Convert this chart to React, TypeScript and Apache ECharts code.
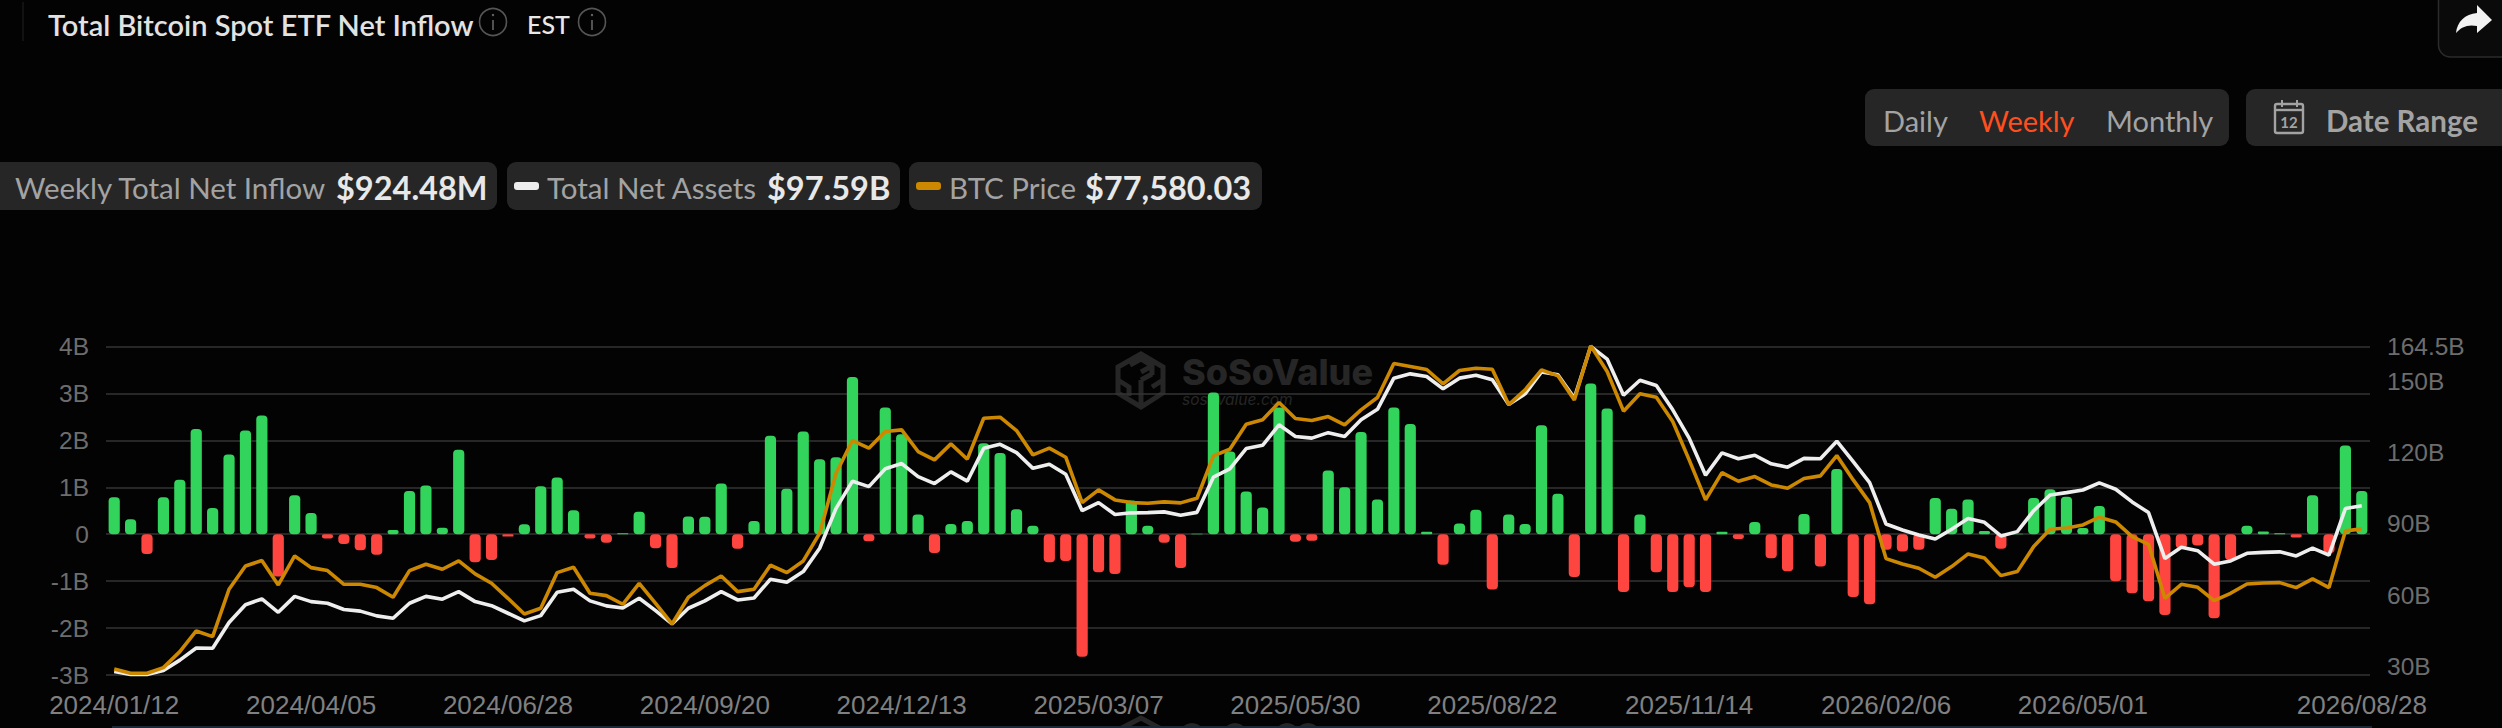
import React, { useEffect, useRef } from "react";
import * as echarts from "echarts";

const tickLabels = ["2024/01/12","2024/04/05","2024/06/28","2024/09/20","2024/12/13","2025/03/07","2025/05/30","2025/08/22","2025/11/14","2026/02/06","2026/05/01","2026/08/28"];
const weekCount = 138;
const firstWeek = Date.UTC(2024, 0, 12);
const weeks = Array.from({ length: weekCount }, (_, i) => new Date(firstWeek + i * 7 * 864e5).toISOString().slice(0, 10).replace(/-/g, "/"));

const netInflowB = [
0.79,0.32,-0.42,0.79,1.16,2.24,0.56,1.70,2.21,2.53,-0.90,0.83,0.45,-0.09,-0.21,-0.34,-0.44,0.09,0.92,1.04,0.14,1.80,-0.60,-0.55,-0.05,0.21,1.02,1.21,0.51,-0.09,-0.18,0.02,0.48,
-0.30,-0.72,0.38,0.37,1.08,-0.31,0.28,2.10,0.97,2.19,1.60,1.64,3.35,-0.15,2.70,2.13,0.42,-0.40,0.22,0.28,1.94,1.73,0.53,0.18,-0.60,-0.57,-2.61,-0.81,-0.85,0.72,0.18,-0.18,-0.72,0.01,3.02,1.76,0.91,0.57,2.70,
-0.16,-0.14,1.36,1.00,2.18,0.74,2.70,2.35,0.05,-0.65,0.23,0.52,-1.18,0.42,0.22,2.32,0.86,-0.91,3.21,2.68,-1.23,0.42,-0.81,-1.23,-1.13,-1.23,0.05,-0.10,0.26,-0.51,-0.79,0.43,-0.69,1.39,-1.34,-1.49,
-0.33,-0.37,-0.33,0.77,0.54,0.74,0.07,-0.31,0.01,0.77,0.96,0.80,0.13,0.60,-1.00,-1.26,-1.43,-1.72,-0.30,-0.24,-1.79,-0.55,0.18,0.06,0.02,-0.07,0.83,-0.40,1.89,0.92];

const totalNetAssetsB = [
27.9,26.7,26.7,28.3,32.7,37.8,37.7,48.5,56.0,58.4,52.8,59.5,57.3,56.6,54.0,53.3,51.3,50.3,56.6,59.5,58.3,61.5,57.3,55.6,52.4,49.2,51.4,61.2,62.5,57.6,55.5,54.6,58.7,
53.5,47.9,54.5,57.6,61.5,58.0,58.8,66.7,65.4,69.9,79.7,96.5,107.9,105.6,113.1,115.3,109.8,106.9,111.8,107.9,121.7,123.4,119.9,113.3,115.0,110.8,95.5,98.9,93.9,94.6,94.7,95.0,93.6,94.8,109.6,113.1,121.6,123.0,131.6,
126.7,126.0,128.3,126.7,133.7,138.1,151.2,153.0,151.9,146.7,151.2,152.4,150.5,140.1,144.6,153.8,152.6,142.8,164.5,159.2,144.0,150.3,148.1,137.9,126.0,110.4,119.8,117.3,118.8,115.2,113.8,117.5,117.3,124.7,116.1,107.3,
89.9,87.4,85.3,83.6,87.7,92.2,90.6,84.9,86.7,95.5,102.1,103.1,104.2,107.2,104.5,99.2,94.7,75.4,80.1,78.7,73.0,74.4,77.6,78.0,78.2,76.5,79.8,76.8,96.4,97.59];

const btcPriceK = [
41.93,40.83,40.83,42.27,46.35,51.61,50.17,62.22,68.16,69.52,63.32,70.70,67.73,66.97,63.49,63.49,62.64,60.18,66.97,68.58,67.31,69.43,66.12,63.74,59.92,55.93,57.38,66.46,67.82,61.20,60.60,58.40,63.74,
58.65,53.39,60.18,63.15,65.61,61.62,62.22,68.33,66.46,69.43,76.47,91.75,100.07,98.12,102.36,102.78,97.27,95.15,99.22,95.32,105.75,106.01,102.61,96.42,98.12,95.82,84.28,87.51,84.96,84.28,84.11,84.45,84.20,85.38,96.16,97.86,104.23,105.33,109.74,
105.67,105.16,106.18,104.06,107.88,111.02,119.67,118.91,118.15,114.49,117.89,118.48,118.23,109.23,112.97,118.06,116.53,110.42,124.17,117.63,107.54,111.95,111.10,104.91,95.15,84.96,91.92,89.71,90.90,88.78,87.93,90.39,91.07,96.25,90.05,84.28,
70.02,68.66,67.56,65.27,67.99,71.21,70.19,65.69,66.71,73.08,77.49,77.83,78.60,80.55,79.36,75.62,73.67,59.92,63.49,62.72,59.33,61.20,63.57,63.83,63.91,62.64,64.85,62.64,77.07,77.58];

const assetsTicks = [30, 60, 90, 120, 150, 164.5];

const UI = "Lato, 'Open Sans', sans-serif";
const AXIS = "'Liberation Sans', Arial, sans-serif";
const PILL = "#262626";
const MUTED = "#a3a3a3";
const BRIGHT = "#e8e8e8";

echarts.graphic.registerShape("shareArrow", echarts.graphic.extendPath("M2456 33C2457 22 2465 14 2477 13L2477 5L2492 20L2477 33L2477 26C2468 24 2461 27 2456 33Z", {}));
echarts.graphic.registerShape("ssvHex", echarts.graphic.extendPath("M1141 354L1163 367L1163 393L1141 407L1118 393L1118 367ZM1130 365L1141 359L1152 366M1141 372L1152 366L1152 375M1118 380L1129 387L1129 396M1141 380L1152 374M1141 380L1141 405M1163 380L1152 387", {}));
echarts.graphic.registerShape("ssvHexLow", echarts.graphic.extendPath("M1118 730L1141 718L1163 730", {}));

function label(text: string, x: number, y: number, size: number, fill: string, weight: any = 400, align = "left", family = UI, extra: any = {}) {
  return { type: "text", silent: true, z: 5, style: { text, x, y, fontSize: size, fontFamily: family, fontWeight: weight, fill, textAlign: align, textVerticalAlign: "middle", ...extra } };
}
function pill(x: number, y: number, w: number, h: number, r = 9) {
  return { type: "rect", silent: true, z: 1, shape: { x, y, width: w, height: h, r }, style: { fill: PILL } };
}
function infoIcon(cx: number, cy: number) {
  return [
    { type: "circle", silent: true, z: 5, shape: { cx, cy, r: 13.5 }, style: { fill: "none", stroke: "#555", lineWidth: 1.6 } },
    { type: "line", silent: true, z: 5, shape: { x1: cx, y1: cy - 2, x2: cx, y2: cy + 8 }, style: { stroke: "#666", lineWidth: 1.6 } },
    { type: "circle", silent: true, z: 5, shape: { cx, cy: cy - 7, r: 1.2 }, style: { fill: "#666" } },
  ];
}
function glyphTop(cx: number) {
  return { type: "circle", silent: true, z: -1, shape: { cx, cy: 735, r: 12 }, style: { fill: "#262626" } };
}

const graphics: any[] = [
  { type: "line", silent: true, shape: { x1: 23, y1: 2, x2: 23, y2: 41 }, style: { stroke: "#222", lineWidth: 1 } },
  label("Total Bitcoin Spot ETF Net Inflow", 48, 24, 29, "#e2e2e2", 600),
  ...infoIcon(493, 22),
  label("EST", 527, 24, 25, "#e8e8e8", 500),
  ...infoIcon(592, 22),

  { type: "rect", silent: true, shape: { x: 2438.5, y: -20, width: 100, height: 77, r: 12 }, style: { fill: "#0a0a0a", stroke: "#2b2b2b", lineWidth: 1.5 } },
  { type: "shareArrow", silent: true, z: 5, x: 0, y: 0, style: { fill: "#f2f2f2", stroke: "none" } },

  pill(1865, 89, 364, 57),
  label("Daily", 1883, 120, 29, MUTED),
  label("Weekly", 1979, 120, 29, "#ff4f1f"),
  label("Monthly", 2106, 120, 29, MUTED),
  pill(2246, 89, 270, 57),
  { type: "rect", silent: true, z: 5, shape: { x: 2275, y: 104, width: 28, height: 29, r: 2 }, style: { fill: "none", stroke: MUTED, lineWidth: 2.4 } },
  { type: "line", silent: true, z: 5, shape: { x1: 2275, y1: 110, x2: 2303, y2: 110 }, style: { stroke: MUTED, lineWidth: 2.4 } },
  { type: "line", silent: true, z: 5, shape: { x1: 2282, y1: 100, x2: 2282, y2: 107 }, style: { stroke: MUTED, lineWidth: 2 } },
  { type: "line", silent: true, z: 5, shape: { x1: 2297, y1: 100, x2: 2297, y2: 107 }, style: { stroke: MUTED, lineWidth: 2 } },
  label("12", 2289, 122, 15, MUTED, 700, "center"),
  label("Date Range", 2326, 120, 29.5, MUTED, 700),

  pill(-20, 162, 517, 48),
  label("Weekly Total Net Inflow", 15, 187, 29.5, MUTED),
  label("$924.48M", 336, 187, 32.5, BRIGHT, 700),
  pill(507, 162, 393, 48),
  { type: "rect", silent: true, z: 5, shape: { x: 514, y: 182, width: 25, height: 8, r: 3 }, style: { fill: "#eeeeee" } },
  label("Total Net Assets", 547, 187, 29.5, MUTED),
  label("$97.59B", 767, 187, 32.5, BRIGHT, 700),
  pill(909, 162, 353, 48),
  { type: "rect", silent: true, z: 5, shape: { x: 916, y: 182, width: 25, height: 8, r: 3 }, style: { fill: "#cc8800" } },
  label("BTC Price", 949, 187, 29.5, MUTED),
  label("$77,580.03", 1085, 187, 32.5, BRIGHT, 700),

  { type: "ssvHex", silent: true, z: -1, x: 0, y: 0, style: { fill: "none", stroke: "#262626", lineWidth: 5 } },
  { ...label("SoSoValue", 1182, 372, 36, "#262626", 800, "left", "Inter, sans-serif"), z: -1 },
  { ...label("sosovalue.com", 1182, 399, 15.5, "#262626", 400, "left", "Inter, sans-serif", { fontStyle: "italic" }), z: -1 },
  { type: "ssvHexLow", silent: true, z: -1, x: 0, y: 0, style: { fill: "none", stroke: "#262626", lineWidth: 5 } },
  glyphTop(1192), glyphTop(1235), glyphTop(1287), glyphTop(1308),
  { type: "rect", silent: true, z: 6, shape: { x: 112, y: 726, width: 2260, height: 2 }, style: { fill: "#1b2836" } },
];

export default function App() {
  const ref = useRef<HTMLDivElement>(null);
  useEffect(() => {
    document.body.style.margin = "0";
    document.body.style.background = "#030303";
    const chart = echarts.init(ref.current!, undefined, { renderer: "svg" });
    chart.setOption({
      animation: false,
      backgroundColor: "#030303",
      grid: { left: 106, right: 132, top: 346.5, height: 328.5, containLabel: false },
      graphic: graphics,
      xAxis: {
        type: "category",
        data: weeks,
        boundaryGap: true,
        axisLine: { show: false },
        axisTick: { show: false },
        axisLabel: {
          interval: (_: number, v: string) => tickLabels.includes(v),
          margin: 17,
          color: "#808080",
          fontFamily: AXIS,
          fontSize: 26,
          hideOverlap: false,
        },
      },
      yAxis: [
        {
          type: "value", min: -3, max: 4, interval: 1,
          axisLine: { show: false }, axisTick: { show: false },
          splitLine: { lineStyle: { color: "#343434", width: 1.5 } },
          axisLabel: { margin: 17, color: "#6d6d6d", fontFamily: AXIS, fontSize: 24.5, formatter: (v: number) => (v === 0 ? "0" : `${v}B`) },
        },
        {
          type: "value", min: 26.45, max: 164.5, position: "right",
          axisLine: { show: false }, axisTick: { show: false }, splitLine: { show: false },
          axisLabel: { customValues: assetsTicks, margin: 17, color: "#6d6d6d", fontFamily: AXIS, fontSize: 24.5, formatter: (v: number) => `${v}B` },
        },
        { type: "value", min: 40.4, max: 124, show: false, splitLine: { show: false } },
      ],
      series: [
        {
          name: "Weekly Total Net Inflow", type: "bar", yAxisIndex: 0, barWidth: 11.2,
          data: netInflowB,
          itemStyle: { borderRadius: 4, color: (p: any) => (p.value >= 0 ? "#33d45c" : "#ff453f") },
        },
        { name: "Total Net Assets", type: "line", yAxisIndex: 1, data: totalNetAssetsB, showSymbol: false, clip: false, z: 3, lineStyle: { color: "#eeeeee", width: 3.6 } },
        { name: "BTC Price", type: "line", yAxisIndex: 2, data: btcPriceK, showSymbol: false, clip: false, z: 4, lineStyle: { color: "#cc8800", width: 3.6 } },
      ],
    });
    return () => chart.dispose();
  }, []);
  return <div ref={ref} style={{ position: "fixed", left: 0, top: 0, width: 2502, height: 728 }} />;
}
